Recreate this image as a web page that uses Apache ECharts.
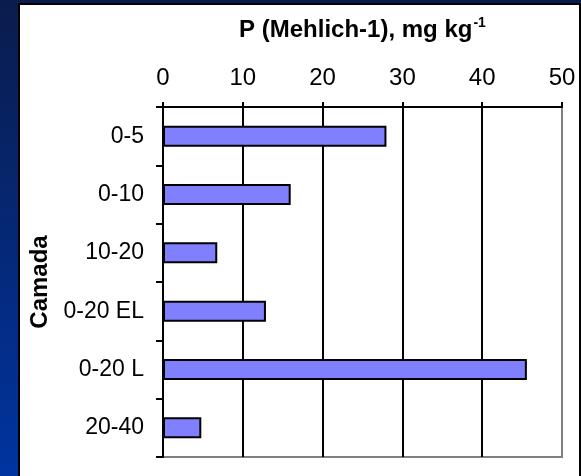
<!DOCTYPE html>
<html>
<head>
<meta charset="utf-8">
<script src="https://cdn.jsdelivr.net/npm/echarts@6/dist/echarts.min.js"></script>
<style>
  html, body { margin: 0; padding: 0; }
  #chart { width: 581px; height: 476px; }
</style>
</head>
<body>
<div id="chart"></div>
<script>
  // camadas (top to bottom) and P values
  var camadas = ['0-5', '0-10', '10-20', '0-20 EL', '0-20 L', '20-40'];
  var pValues = [28, 16, 6.8, 12.9, 45.6, 4.8];
  var xTicks = { min: 0, max: 50, interval: 10 };

  var font = '"Liberation Sans", Arial, sans-serif';

  var myChart = echarts.init(document.getElementById('chart'));

  var option = {
    animation: false,
    backgroundColor: {
      type: 'linear', x: 0, y: 0, x2: 0, y2: 1,
      colorStops: [
        { offset: 0, color: '#0a1c4c' },
        { offset: 1, color: '#0034a0' },
      ],
    },
    graphic: [
      {
        type: 'rect',
        z: -10,
        shape: { x: 19, y: 4, width: 561, height: 480 },
        style: { fill: '#ffffff', stroke: '#000000', lineWidth: 2 },
      },
    ],
    grid: {
      left: 163,
      top: 107,
      width: 399,
      height: 350,
      show: true,
      backgroundColor: 'transparent',
      borderColor: '#808080',
      borderWidth: 2,
    },
    xAxis: {
      type: 'value',
      position: 'top',
      min: xTicks.min,
      max: xTicks.max,
      interval: xTicks.interval,
      name: '{t|P (Mehlich-1), mg kg}{s|-1}',
      nameLocation: 'middle',
      nameGap: 63,
      nameTextStyle: {
        rich: {
          t: { fontFamily: font, fontSize: 24, fontWeight: 'bold', color: '#000', lineHeight: 28 },
          s: { fontFamily: font, fontSize: 14, fontWeight: 'bold', color: '#000', verticalAlign: 'top', lineHeight: 28, padding: [0, 0, 10, 1] },
        },
      },
      axisLine: { show: true, lineStyle: { color: '#000', width: 2 } },
      axisTick: { show: true, inside: false, length: 5, lineStyle: { color: '#000', width: 2 } },
      axisLabel: { fontFamily: font, fontSize: 24, color: '#000', margin: 17 },
      splitLine: { show: true, showMinLine: false, showMaxLine: false, lineStyle: { color: '#000', width: 2 } },
    },
    yAxis: {
      type: 'category',
      data: camadas,
      inverse: true,
      name: 'Camada',
      nameLocation: 'middle',
      nameRotate: 90,
      nameGap: 104,
      nameTextStyle: { fontFamily: font, fontSize: 24, fontWeight: 'bold', color: '#000' },
      axisLine: { show: true, lineStyle: { color: '#000', width: 2 } },
      axisTick: { show: true, length: 7, interval: 0, lineStyle: { color: '#000', width: 2 } },
      axisLabel: { fontFamily: font, fontSize: 23, color: '#000', margin: 19 },
      splitLine: { show: false },
    },
    series: [
      {
        type: 'bar',
        data: pValues,
        barWidth: 21,
        itemStyle: { color: '#8080ff', borderColor: '#000', borderWidth: 2 },
        z: 3,
      },
    ],
  };

  option && myChart.setOption(option);
</script>
</body>
</html>
